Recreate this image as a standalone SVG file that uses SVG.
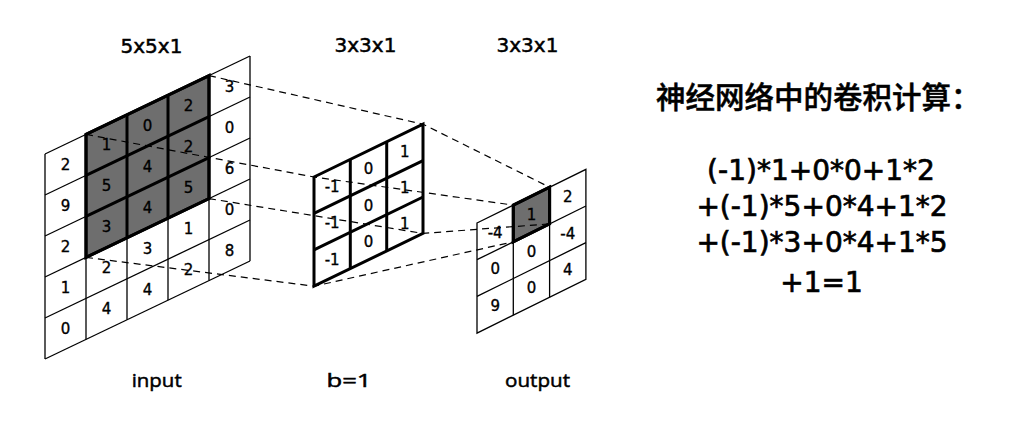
<svg xmlns="http://www.w3.org/2000/svg" width="1016" height="433" viewBox="0 0 1016 433">
<style>
.thin{stroke:#000;stroke-width:1.3;fill:none}
.thick{stroke:#000;stroke-width:3;fill:none;stroke-linejoin:miter}
.shade{fill:#6e6e6e;stroke:#000;stroke-width:3}
.num{font-family:"DejaVu Sans",sans-serif;font-size:15px;text-anchor:middle;fill:#000;stroke:#000;stroke-width:0.35}
.lbl{font-family:"DejaVu Sans",sans-serif;font-size:20px;text-anchor:middle;fill:#000;stroke:#000;stroke-width:0.5}
.blbl{font-family:"Open Sans","Liberation Sans",sans-serif;font-size:19px;text-anchor:middle;fill:#000;stroke:#000;stroke-width:0.5}
.f{font-family:"DejaVu Sans",sans-serif;font-size:28px;text-anchor:middle;fill:#000;stroke:#000;stroke-width:0.7}
.cn{font-family:"Noto Sans CJK SC",sans-serif;font-size:29.5px;font-weight:500;fill:#000;stroke:#000;stroke-width:0.5}
.dash{stroke:#000;stroke-width:1.2;fill:none;stroke-dasharray:7 5}
</style>
<rect width="1016" height="433" fill="#fff"/>
<g id="input">
<polygon class="shade" points="86,134.4 209,75.6 209,198.6 86,257.4"/>
<g class="thin">
<line x1="45" y1="154" x2="45" y2="359"/>
<line x1="86" y1="134.4" x2="86" y2="339.4"/>
<line x1="127" y1="114.8" x2="127" y2="319.8"/>
<line x1="168" y1="95.2" x2="168" y2="300.2"/>
<line x1="209" y1="75.6" x2="209" y2="280.6"/>
<line x1="250" y1="56" x2="250" y2="261"/>
<line x1="45" y1="154" x2="250" y2="56"/>
<line x1="45" y1="195" x2="250" y2="97"/>
<line x1="45" y1="236" x2="250" y2="138"/>
<line x1="45" y1="277" x2="250" y2="179"/>
<line x1="45" y1="318" x2="250" y2="220"/>
<line x1="45" y1="359" x2="250" y2="261"/>
</g>
<g class="thick">
<polygon points="86,134.4 209,75.6 209,198.6 86,257.4"/>
<line x1="127" y1="114.8" x2="127" y2="237.8"/>
<line x1="168" y1="95.2" x2="168" y2="218.2"/>
<line x1="86" y1="175.4" x2="209" y2="116.6"/>
<line x1="86" y1="216.4" x2="209" y2="157.6"/>
</g>
<g class="num">
<text x="65.5" y="170">2</text><text x="65.5" y="211">9</text><text x="65.5" y="252">2</text><text x="65.5" y="293">1</text><text x="65.5" y="334">0</text>
<text x="106.5" y="150.4">1</text><text x="106.5" y="191.4">5</text><text x="106.5" y="232.4">3</text><text x="106.5" y="273.4">2</text><text x="106.5" y="314.4">4</text>
<text x="147.5" y="130.8">0</text><text x="147.5" y="171.8">4</text><text x="147.5" y="212.8">4</text><text x="147.5" y="253.8">3</text><text x="147.5" y="294.8">4</text>
<text x="188.5" y="111.2">2</text><text x="188.5" y="152.2">2</text><text x="188.5" y="193.2">5</text><text x="188.5" y="234.2">1</text><text x="188.5" y="275.2">2</text>
<text x="229.5" y="91.6">3</text><text x="229.5" y="132.6">0</text><text x="229.5" y="173.6">6</text><text x="229.5" y="214.6">0</text><text x="229.5" y="255.6">8</text>
</g>
</g>
<g id="kernel">
<g class="thick">
<polygon points="314,177 423,124.2 423,233.4 314,286.2"/>
<line x1="350.3" y1="159.4" x2="350.3" y2="268.6"/>
<line x1="386.7" y1="141.8" x2="386.7" y2="251"/>
<line x1="314" y1="213.4" x2="423" y2="160.6"/>
<line x1="314" y1="249.8" x2="423" y2="197"/>
</g>
<g class="num">
<text x="332.2" y="191.7">-1</text><text x="332.2" y="228.1">-1</text><text x="332.2" y="264.5">-1</text>
<text x="368.5" y="174.1">0</text><text x="368.5" y="210.5">0</text><text x="368.5" y="246.9">0</text>
<text x="404.8" y="156.5">1</text><text x="404.8" y="192.9">1</text><text x="404.8" y="229.3">1</text>
</g>
</g>
<g id="output">
<polygon class="shade" points="513.3,205.1 549.6,187.2 549.6,223.9 513.3,241.8"/>
<g class="thin">
<polygon points="477,223 585.9,169.3 585.9,279.4 477,333.1"/>
<line x1="513.3" y1="205.1" x2="513.3" y2="315.2"/>
<line x1="549.6" y1="187.2" x2="549.6" y2="297.3"/>
<line x1="477" y1="259.7" x2="585.9" y2="206"/>
<line x1="477" y1="296.4" x2="585.9" y2="242.7"/>
</g>
<polygon class="thick" points="513.3,205.1 549.6,187.2 549.6,223.9 513.3,241.8"/>
<g class="num">
<text x="495.2" y="237.7">-4</text><text x="495.2" y="274.4">0</text><text x="495.2" y="311.1">9</text>
<text x="531.5" y="219.8">1</text><text x="531.5" y="256.5">0</text><text x="531.5" y="293.2">0</text>
<text x="567.8" y="201.9">2</text><text x="567.8" y="238.6">-4</text><text x="567.8" y="275.3">4</text>
</g>
</g>
<g id="connectors" class="dash">
<polyline points="209,75.6 423,124.2 549.6,187.2"/>
<polyline points="86,134.4 314,177 513.3,205.1"/>
<polyline points="209,198.6 423,233.4 549.6,223.9"/>
<polyline points="86,257.4 314,286.2 513.3,241.8"/>
</g>
<g id="labels">
<text class="lbl" x="151.5" y="53">5x5x1</text>
<text class="lbl" x="365.5" y="52">3x3x1</text>
<text class="lbl" x="527.5" y="52">3x3x1</text>
<text class="blbl" x="156.7" y="386.5" textLength="50" lengthAdjust="spacingAndGlyphs">input</text>
<text class="blbl" x="349" y="386.5" textLength="45" lengthAdjust="spacingAndGlyphs">b=1</text>
<text class="blbl" x="537.5" y="386.5" textLength="65" lengthAdjust="spacingAndGlyphs">output</text>
</g>
<g id="formula">
<text class="cn" x="656" y="108">神经网络中的卷积计算：</text>
<text class="f" x="821" y="180">(-1)*1+0*0+1*2</text>
<text class="f" x="822" y="215.5">+(-1)*5+0*4+1*2</text>
<text class="f" x="822" y="252">+(-1)*3+0*4+1*5</text>
<text class="f" x="821.5" y="291.5">+1=1</text>
</g>
</svg>
